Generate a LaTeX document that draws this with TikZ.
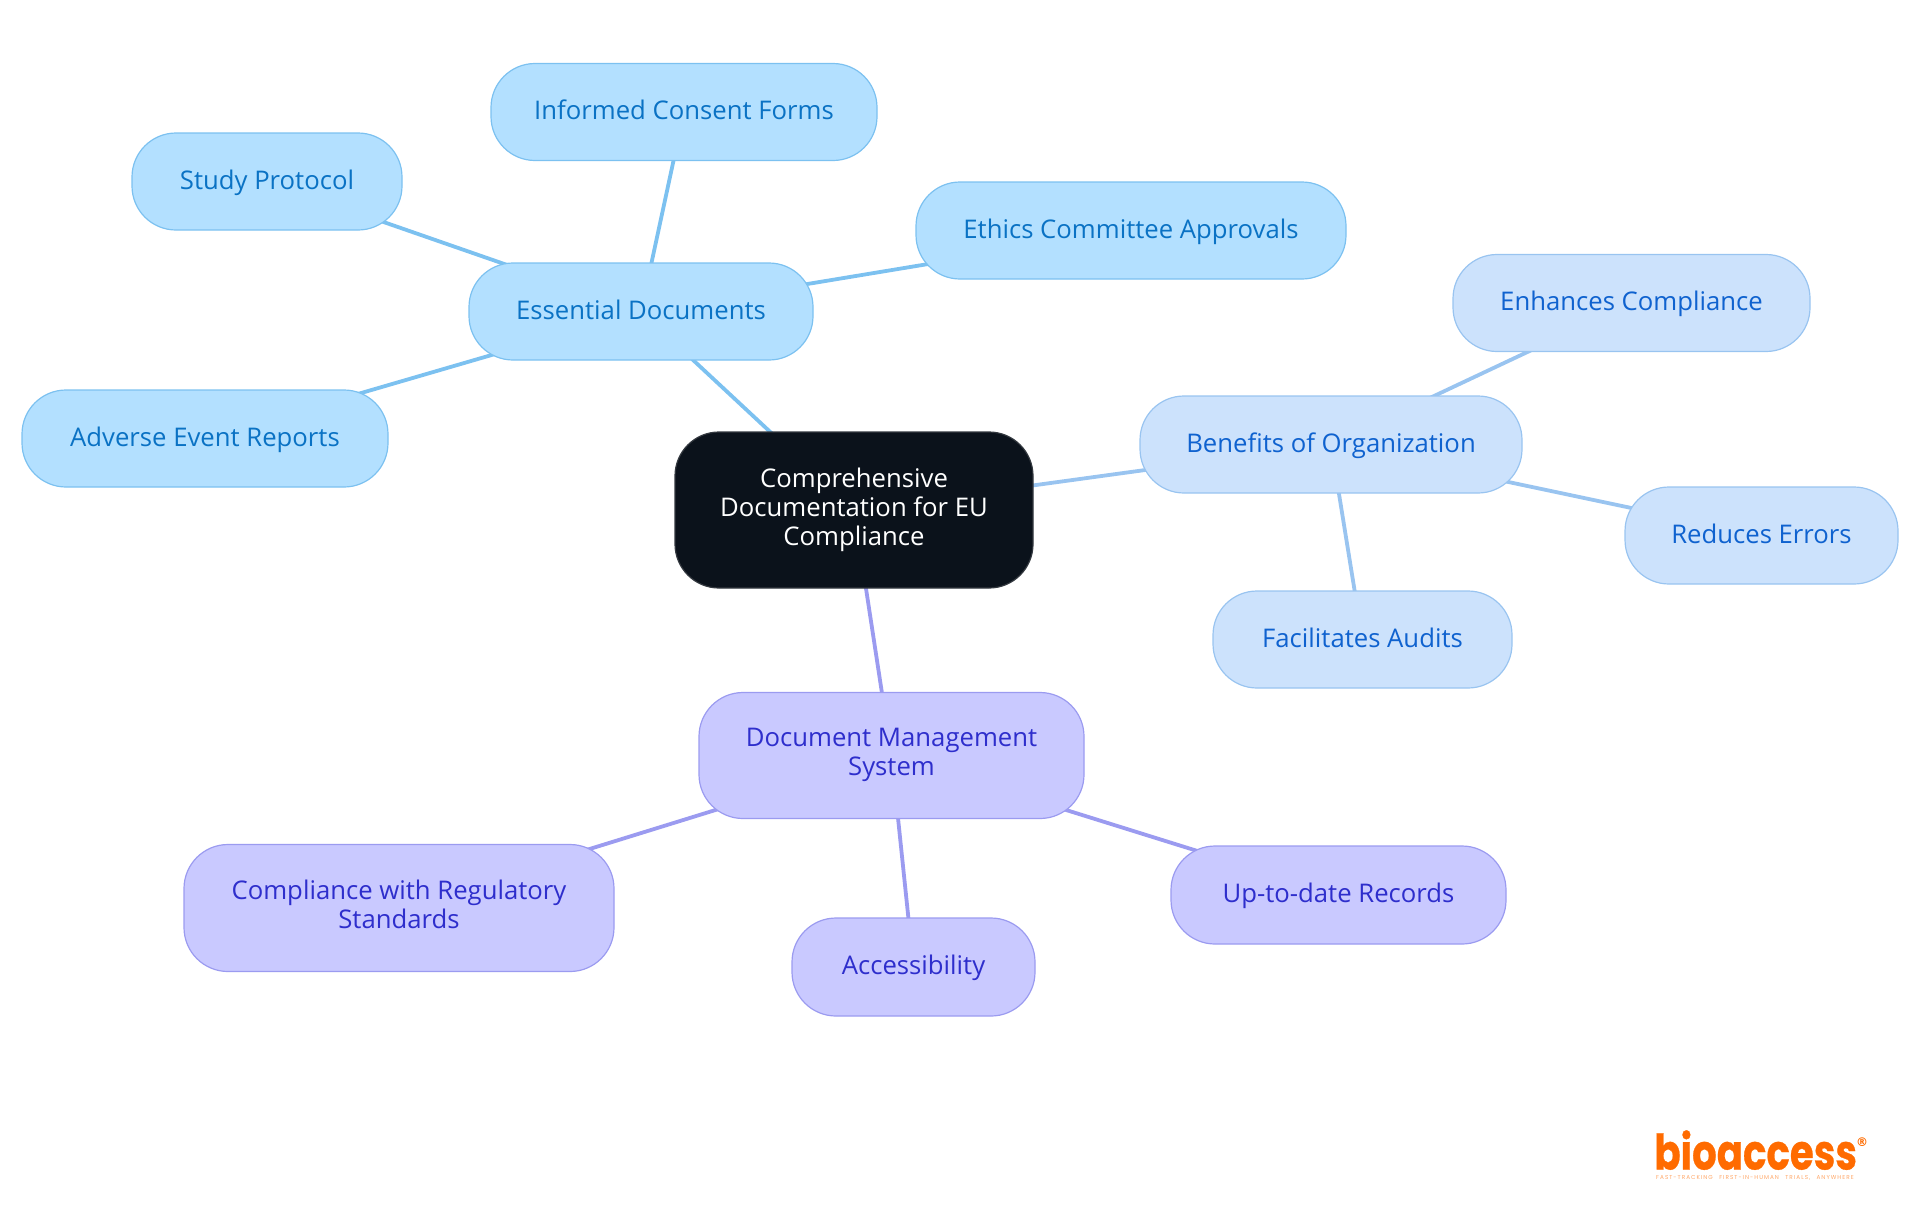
\documentclass[tikz,border=0pt]{standalone}
\usepackage{fontspec}
\setmainfont{Open Sans}
\newfontfamily\logofont[BoldFeatures={FakeBold=0.6}]{Poppins}
\newfontfamily\tagfont[LetterSpace=18,WordSpace=2.5]{Poppins}
\newfontfamily\regfont{DejaVu Sans}
\usetikzlibrary{backgrounds}
\definecolor{rootfill}{HTML}{0B121B}
\definecolor{rootline}{HTML}{33383F}
\definecolor{skyfill}{HTML}{B3E0FF}
\definecolor{skyline}{HTML}{7CC1F0}
\definecolor{skytext}{HTML}{0A72C4}
\definecolor{palefill}{HTML}{CCE2FC}
\definecolor{paleline}{HTML}{99C4F0}
\definecolor{paletext}{HTML}{0F62CF}
\definecolor{violetfill}{HTML}{C9C9FF}
\definecolor{violetline}{HTML}{9B9BF0}
\definecolor{violettext}{HTML}{2E2ECC}
\definecolor{logoorange}{HTML}{FF6B00}
\tikzset{
  x=0.5pt,y=-0.5pt,
  boxdim/.style 2 args={minimum width=#1*0.5pt,minimum height=#2*0.5pt},
  mapnode/.style={draw,line width=0.6pt,rounded corners=22pt,inner sep=0pt,align=center,
    font=\fontsize{12.85}{14.5}\selectfont,
    execute at begin node={\rule{0pt}{11pt}},
    execute at end node={\rule[-3.5pt]{0pt}{3.5pt}}},
  rootnode/.style={mapnode,fill=rootfill,draw=rootline,text=white},
  skynode/.style={mapnode,fill=skyfill,draw=skyline,text=skytext},
  palenode/.style={mapnode,fill=palefill,draw=paleline,text=paletext},
  violetnode/.style={mapnode,fill=violetfill,draw=violetline,text=violettext},
  skyedge/.style={draw=skyline,line width=1.9pt},
  paleedge/.style={draw=paleline,line width=1.9pt},
  violetedge/.style={draw=violetline,line width=1.9pt},
}
\begin{document}
\begin{tikzpicture}
\useasboundingbox (0,0) rectangle (1920,1215);
\node[rootnode,boxdim={358}{156}] (root) at (854,510) {Comprehensive\\Documentation for EU\\Compliance};
\node[skynode,boxdim={344}{97}] (essential) at (641,311.5) {Essential Documents};
\node[skynode,boxdim={386}{97}] (consent) at (684,112) {Informed Consent Forms};
\node[skynode,boxdim={270}{97}] (protocol) at (267,181.5) {Study Protocol};
\node[skynode,boxdim={430}{97}] (ethics) at (1131,230.5) {Ethics Committee Approvals};
\node[skynode,boxdim={366}{97}] (adverse) at (205,438.5) {Adverse Event Reports};
\node[palenode,boxdim={382}{97}] (benefits) at (1331,444.5) {Benefits of Organization};
\node[palenode,boxdim={357}{97}] (enhances) at (1631.5,303) {Enhances Compliance};
\node[palenode,boxdim={273}{97}] (reduces) at (1761.5,535.5) {Reduces Errors};
\node[palenode,boxdim={299}{97}] (audits) at (1362.5,639.5) {Facilitates Audits};
\node[violetnode,boxdim={385}{126}] (dms) at (891.5,755.5) {Document Management\\System};
\node[violetnode,boxdim={430}{127}] (regulatory) at (399,908) {Compliance with Regulatory\\Standards};
\node[violetnode,boxdim={243}{98}] (access) at (913.5,967) {Accessibility};
\node[violetnode,boxdim={335}{98}] (records) at (1338.5,895) {Up-to-date Records};
\begin{scope}[on background layer]
\draw[skyedge] (root.center) -- (essential.center);
\draw[skyedge] (essential.center) -- (consent.center);
\draw[skyedge] (essential.center) -- (protocol.center);
\draw[skyedge] (essential.center) -- (ethics.center);
\draw[skyedge] (essential.center) -- (adverse.center);
\draw[paleedge] (root.center) -- (benefits.center);
\draw[paleedge] (benefits.center) -- (enhances.center);
\draw[paleedge] (benefits.center) -- (reduces.center);
\draw[paleedge] (benefits.center) -- (audits.center);
\draw[violetedge] (root.center) -- (dms.center);
\draw[violetedge] (dms.center) -- (regulatory.center);
\draw[violetedge] (dms.center) -- (access.center);
\draw[violetedge] (dms.center) -- (records.center);
\end{scope}
\node[inner sep=0pt,anchor=base west,text=logoorange,font=\logofont\bfseries\fontsize{24.5}{25}\selectfont] (logo) at (1654,1169.5) {\scalebox{0.79}[1]{bioaccess}};
\node[inner sep=0pt,text=logoorange,font=\regfont\bfseries\fontsize{6}{6}\selectfont] (reg) at (1862,1142) {®};
\node[inner sep=0pt,text=logoorange!60,font=\tagfont\fontsize{2.85}{3}\selectfont] (tag) at (1755,1178) {FAST-TRACKING FIRST-IN-HUMAN TRIALS, ANYWHERE};
\end{tikzpicture}
\end{document}
